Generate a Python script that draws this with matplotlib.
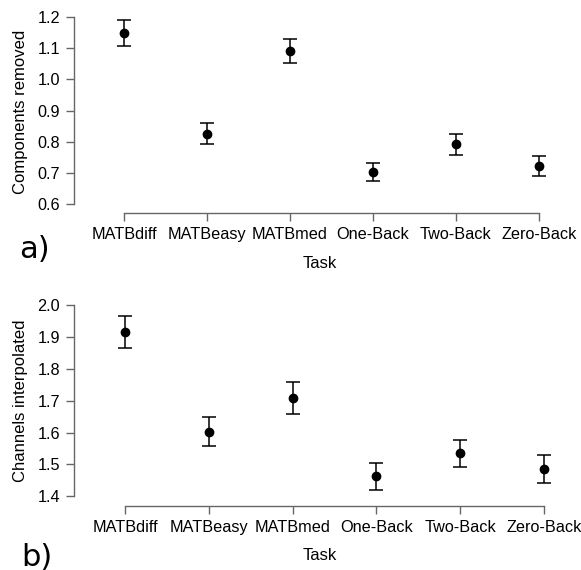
import matplotlib.pyplot as plt
import numpy as np

tasks = ['MATBdiff', 'MATBeasy', 'MATBmed', 'One-Back', 'Two-Back', 'Zero-Back']
comp_mean = [1.148, 0.826, 1.090, 0.704, 0.792, 0.722]
comp_err = [0.042, 0.033, 0.039, 0.029, 0.034, 0.031]
chan_mean = [1.916, 1.603, 1.710, 1.463, 1.535, 1.486]
chan_err = [0.050, 0.046, 0.050, 0.042, 0.042, 0.043]

plt.rcParams['font.family'] = ['Liberation Sans', 'DejaVu Sans']
W, H = 581, 570
fig = plt.figure(figsize=(W / 100, H / 100), dpi=100)

def panel(rect, xlim, ylim, yb, mean, err, ylab, yticks, letter, lpos):
    ax = fig.add_axes(rect)
    x = np.arange(len(tasks))
    ax.errorbar(x, mean, yerr=err, fmt='o', color='black', ms=6,
                capsize=5, elinewidth=1.1, capthick=1.1)
    ax.set_xlim(*xlim)
    ax.set_ylim(*ylim)
    ax.set_xticks(x)
    ax.set_xticklabels(tasks)
    ax.set_yticks(yticks)
    ax.set_yticklabels(['%.1f' % t for t in yticks])
    for s in ['top', 'right']:
        ax.spines[s].set_visible(False)
    ax.spines['left'].set_bounds(yb[0], yb[1])
    ax.spines['bottom'].set_bounds(0, len(tasks) - 1)
    for s in ['left', 'bottom']:
        ax.spines[s].set_color('#666666')
        ax.spines[s].set_linewidth(1.0)
    ax.tick_params(axis='both', direction='out', length=6, width=1.0,
                   color='#666666', labelsize=11.7)
    ax.tick_params(axis='x', pad=4)
    ax.tick_params(axis='y', pad=4)
    ax.set_xlabel('Task', fontsize=12, labelpad=10)
    ax.set_ylabel(ylab, fontsize=12, labelpad=7)
    fig.text(lpos[0], lpos[1], letter, fontsize=22, family='DejaVu Sans',
             ha='left', va='center')
    return ax

panel([74 / W, 357 / H, (565 - 74) / W, (560 - 357) / H],
      ((74 - 124) / 83, (565 - 124) / 83), (0.6 - 9 / 312, 1.2 + 7 / 312),
      (0.6, 1.2), comp_mean, comp_err, 'Components removed',
      [0.6, 0.7, 0.8, 0.9, 1.0, 1.1, 1.2], 'a)', (19 / W, 1 - 249 / H))

panel([74 / W, 64.3 / H, (565 - 74) / W, (275 - 64.3) / H],
      ((74 - 125) / 83.8, (565 - 125) / 83.8), (1.4 - 9.4 / 318.3, 2.0 + 10.3 / 318.3),
      (1.4, 2.0), chan_mean, chan_err, 'Channels interpolated',
      [1.4, 1.5, 1.6, 1.7, 1.8, 1.9, 2.0], 'b)', (21 / W, 1 - 557 / H))

fig.savefig('out.png', dpi=100)
